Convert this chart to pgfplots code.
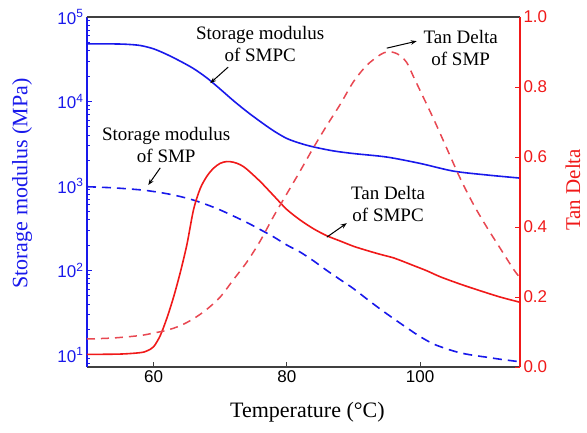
\documentclass[border=0pt]{standalone}
\usepackage{pgfplots}
\pgfplotsset{compat=1.18}
\usepackage{fontspec}
\setmainfont{Liberation Serif}
\setsansfont{Liberation Sans}
\usetikzlibrary{arrows.meta}

\definecolor{mblue}{RGB}{25,25,235}
\definecolor{mred}{RGB}{240,25,25}
\definecolor{mredd}{RGB}{232,72,82}

% storage modulus, SMPC (MPa)
\pgfplotstableread{
T E
50 48000
54 48000
56 47500
58 46000
60 42000
62 36000
64 30000
66 24500
68 19000
70 14000
72 10200
74 7600
76 5800
78 4500
80 3650
82 3200
84 2900
87 2600
90 2420
95 2200
100 1850
105 1500
110 1350
115 1240
}\smpcE
% storage modulus, SMP (MPa)
\pgfplotstableread{
T E
50 980
54 950
58 900
60 860
62 810
64 750
66 680
68 600
70 520
72 440
74 370
76 305
78 250
80 200
82 165
84 130
86 100
88 78
90 61
92 46
94 35
96 27
98 21
100 16.5
102 13.5
104 11.8
106 10.6
108 9.9
110 9.4
112 8.9
115 8.3
}\smpE
% tan delta, SMPC
\pgfplotstableread{
T d
50 0.036
55 0.037
58 0.041
59 0.046
60 0.058
61 0.090
62 0.140
63 0.200
64 0.270
65 0.350
66 0.450
67 0.510
68 0.545
69 0.568
70 0.582
71 0.587
72 0.585
73 0.578
74 0.565
76 0.530
78 0.490
80 0.450
82 0.420
84 0.395
86 0.375
88 0.360
90 0.345
92 0.333
94 0.322
96 0.312
97 0.305
99 0.290
101 0.275
103 0.258
106 0.237
109 0.218
112 0.200
115 0.185
}\smpcD
% tan delta, SMP
\pgfplotstableread{
T d
50 0.080
54 0.083
58 0.090
60 0.097
62 0.105
64 0.118
66 0.138
68 0.165
70 0.200
72 0.250
74 0.300
76 0.360
78 0.430
80 0.495
82 0.560
84 0.627
86 0.690
88 0.750
90 0.815
92 0.862
94 0.892
95 0.900
96 0.899
97 0.890
98 0.870
99 0.830
100 0.790
102 0.710
104 0.625
106 0.540
108 0.465
110 0.400
112 0.340
114 0.280
115 0.255
}\smpD

\begin{document}
\begin{tikzpicture}
\path[use as bounding box] (-87pt,-65pt) rectangle (500pt,367pt);
\pgfplotsset{
  every axis/.append style={
    at={(0,0)}, anchor=south west, scale only axis,
    width=433pt, height=350pt, xmin=50, xmax=115,
    tick align=inside, major tick length=5pt, minor tick length=3pt,
    tick label style={font=\fontsize{17}{17}\selectfont\sffamily},
    /pgf/number format/assume math mode=true,
  },
}
\begin{axis}[
  ymode=log, ymin=7.2, ymax=1e5,
  axis x line*=bottom, axis y line*=left,
  axis line style={-},
  x axis line style={draw=black!75, line width=1.3pt},
  y axis line style={draw=mblue, line width=1.3pt},
  xtick={60,80,100}, x tick style={black!75, line width=1pt},
  ytick={10,100,1000,10000,100000},
  yticklabels={10\textsuperscript{1},10\textsuperscript{2},10\textsuperscript{3},10\textsuperscript{4},10\textsuperscript{5}},
  minor ytick={8,9,20,30,40,50,60,70,80,90,200,300,400,500,600,700,800,900,2000,3000,4000,5000,6000,7000,8000,9000,20000,30000,40000,50000,60000,70000,80000,90000},
  y tick style={mblue, line width=0.9pt},
  yticklabel style={mblue},
  xlabel={Temperature (\textdegree C)},
  ylabel={Storage modulus (MPa)},
  every axis x label/.style={at={(axis description cs:0.509,-0.129)}, anchor=center, font=\fontsize{22}{22}\selectfont},
  every axis y label/.style={at={(axis description cs:-0.150,0.524)}, anchor=center, rotate=90, text=mblue, font=\fontsize{22}{22}\selectfont},
]
\addplot[mblue, line width=1.6pt, smooth] table[x=T, y=E] {\smpcE};
\addplot[mblue, line width=1.6pt, smooth, dash pattern=on 9pt off 6pt] table[x=T, y=E] {\smpE};
\end{axis}
\begin{axis}[
  ymin=0, ymax=1,
  axis x line*=top, axis y line*=right,
  axis line style={-},
  x axis line style={draw=black!75, line width=1.3pt},
  xtick=\empty,
  y axis line style={draw=mred, line width=1.2pt},
  ytick={0,0.2,0.4,0.6,0.8,1},
  yticklabel style={mred, /pgf/number format/fixed, /pgf/number format/fixed zerofill, /pgf/number format/precision=1},
  y tick style={mred, line width=0.9pt},
  ylabel={Tan Delta},
  every axis y label/.style={at={(axis description cs:1.122,0.506)}, anchor=center, rotate=90, text=mred, font=\fontsize{21}{21}\selectfont},
]
\addplot[mred, line width=1.6pt, smooth] table[x=T, y=d] {\smpcD};
\addplot[mredd, line width=1.5pt, smooth, dash pattern=on 8pt off 6pt] table[x=T, y=d] {\smpD};

\begin{scope}[every node/.style={font=\fontsize{19}{22}\selectfont, align=center, anchor=center}]
\node at (axis cs:76.0,0.923) {Storage modulus\\of SMPC};
\node at (axis cs:61.9,0.633) {Storage modulus\\of SMP};
\node at (axis cs:106.1,0.910) {Tan Delta\\of SMP};
\node at (axis cs:95.2,0.467) {Tan Delta\\of SMPC};
\end{scope}
\begin{scope}[-{Stealth[length=6pt,width=4.5pt]}, line width=1pt]
\draw (axis cs:71.2,0.857) -- (axis cs:68.5,0.811);
\draw (axis cs:61.0,0.569) -- (axis cs:59.2,0.520);
\draw (axis cs:95.0,0.911) -- (axis cs:99.5,0.931);
\draw (axis cs:86.0,0.371) -- (axis cs:89.0,0.411);
\end{scope}
\end{axis}
\end{tikzpicture}
\end{document}
